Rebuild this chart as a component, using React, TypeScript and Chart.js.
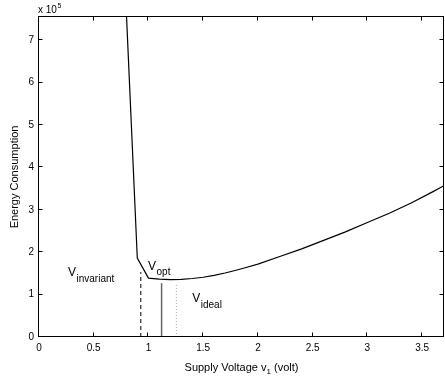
import React, { useEffect, useRef } from "react";
import { Chart, registerables } from "chart.js";

Chart.register(...registerables);

// Supply voltage (volt) and energy consumption
const voltage = [0.795, 0.898, 1.0, 1.1, 1.2, 1.3, 1.4, 1.5, 1.6, 1.7, 1.8, 1.9, 2.0, 2.2, 2.4, 2.6, 2.8, 3.0, 3.2, 3.4, 3.6, 3.7];
const energy = [783000, 186000, 139000, 136500, 135500, 136000, 138000, 141000, 145500, 151000, 157500, 164500, 172000, 190000, 208000, 228000, 248000, 270000, 292000, 316000, 343000, 357000];

// Marker lines: [voltage, top energy]
const vInvariant = [0.93, 153000];
const vOpt = [1.12, 127000];
const vIdeal = [1.255, 126000];

// Text labels: [main, subscript, x, y, subscript drop]
const labels: [string, string, number, number, number][] = [
  ["V", "invariant", 0.265, 143000, 6],
  ["V", "opt", 0.996, 157000, 5],
  ["V", "ideal", 1.4, 82000, 6],
];

const xTicks = [0, 0.5, 1, 1.5, 2, 2.5, 3, 3.5];
const yTicks = [0, 1, 2, 3, 4, 5, 6, 7];
const xMax = 3.7;
const yMax = 755000;

const FONT = "'Liberation Sans', Arial, Helvetica, sans-serif";

const axesPlugin = {
  id: "matlabAxes",
  afterDraw(chart: any) {
    const ctx = chart.ctx;
    const { left, right, top, bottom } = chart.chartArea;
    const xs = chart.scales.x;
    const ys = chart.scales.y;
    ctx.save();
    ctx.strokeStyle = "#000";
    ctx.lineWidth = 1;
    ctx.strokeRect(left - 0.5, top - 0.5, right - left, bottom - top);
    const tl = 4;
    ctx.beginPath();
    xTicks.forEach((v) => {
      const px = Math.round(xs.getPixelForValue(v)) - 0.5;
      ctx.moveTo(px, bottom - 0.5);
      ctx.lineTo(px, bottom - 0.5 - tl);
      ctx.moveTo(px, top - 0.5);
      ctx.lineTo(px, top - 0.5 + tl);
    });
    yTicks.forEach((v) => {
      const py = Math.round(ys.getPixelForValue(v * 1e5)) - 0.5;
      ctx.moveTo(left - 0.5, py);
      ctx.lineTo(left - 0.5 + tl, py);
      ctx.moveTo(right - 0.5, py);
      ctx.lineTo(right - 0.5 - tl, py);
    });
    ctx.stroke();

    ctx.fillStyle = "#000";
    // exponent label
    ctx.textBaseline = "alphabetic";
    ctx.textAlign = "left";
    ctx.font = `10px ${FONT}`;
    ctx.fillText("x 10", left - 1, 13);
    const w10 = ctx.measureText("x 10").width;
    ctx.font = `7px ${FONT}`;
    ctx.fillText("5", left - 1 + w10 + 0.5, 8);

    // x title with subscript
    ctx.font = `11px ${FONT}`;
    const p1 = "Supply Voltage v";
    const p3 = " (volt)";
    const w1 = ctx.measureText(p1).width;
    const w3 = ctx.measureText(p3).width;
    ctx.font = `8px ${FONT}`;
    const w2 = ctx.measureText("1").width;
    const total = w1 + w2 + w3;
    const sx = (left + right) / 2 - total / 2;
    const by = 371;
    ctx.font = `11px ${FONT}`;
    ctx.fillText(p1, sx, by);
    ctx.font = `8px ${FONT}`;
    ctx.fillText("1", sx + w1, by + 3);
    ctx.font = `11px ${FONT}`;
    ctx.fillText(p3, sx + w1 + w2, by);

    // y title
    ctx.save();
    ctx.translate(15, (top + bottom) / 2);
    ctx.rotate(-Math.PI / 2);
    ctx.textAlign = "center";
    ctx.textBaseline = "middle";
    ctx.font = `11px ${FONT}`;
    ctx.fillText("Energy Consumption", 0, 0);
    ctx.restore();

    // annotations
    labels.forEach(([main, sub, x, y, off]) => {
      const px = xs.getPixelForValue(x);
      const py = ys.getPixelForValue(y);
      ctx.textAlign = "left";
      ctx.textBaseline = "alphabetic";
      ctx.font = `12px ${FONT}`;
      ctx.fillText(main, px, py);
      const wm = ctx.measureText(main).width;
      ctx.font = `10px ${FONT}`;
      ctx.fillText(sub, px + wm + 0.5, py + off);
    });
    ctx.restore();
  },
};

export default function App() {
  const ref = useRef<HTMLCanvasElement>(null);
  useEffect(() => {
    if (!ref.current) return;
    const curve = voltage.map((v, i) => ({ x: v, y: energy[i] }));
    const vline = (p: number[]) => [
      { x: p[0], y: 0 },
      { x: p[0], y: p[1] },
    ];
    const chart = new Chart(ref.current, {
      type: "line",
      data: {
        datasets: [
          {
            data: curve,
            borderColor: "#000",
            borderWidth: 1.2,
            pointRadius: 0,
            tension: 0,
          },
          {
            data: vline(vInvariant),
            borderColor: "#000",
            borderWidth: 1,
            borderDash: [4, 3],
            pointRadius: 0,
          },
          {
            data: vline(vOpt),
            borderColor: "#666",
            borderWidth: 1.5,
            pointRadius: 0,
          },
          {
            data: vline(vIdeal),
            borderColor: "#aaa",
            borderWidth: 1,
            borderDash: [1, 2],
            pointRadius: 0,
          },
        ],
      },
      options: {
        animation: false,
        responsive: false,
        events: [],
        layout: { padding: { top: 17, right: 1, left: 0, bottom: 0 } },
        plugins: { legend: { display: false }, tooltip: { enabled: false } },
        scales: {
          x: {
            type: "linear",
            min: 0,
            max: xMax,
            grid: { display: false, drawTicks: false },
            border: { display: false },
            afterFit: (s: any) => {
              s.height = 44;
            },
            afterBuildTicks: (s: any) => {
              s.ticks = xTicks.map((v) => ({ value: v }));
            },
            ticks: {
              padding: 5,
              color: "#000",
              font: { size: 10, family: FONT },
              maxRotation: 0,
              autoSkip: false,
              callback: (v: any) => String(v),
            },
          },
          y: {
            type: "linear",
            min: 0,
            max: yMax,
            grid: { display: false, drawTicks: false },
            border: { display: false },
            afterFit: (s: any) => {
              s.width = 39;
            },
            afterBuildTicks: (s: any) => {
              s.ticks = yTicks.map((v) => ({ value: v * 1e5 }));
            },
            ticks: {
              padding: 5,
              color: "#000",
              font: { size: 10, family: FONT },
              autoSkip: false,
              callback: (v: any) => String(Math.round(Number(v) / 1e5)),
            },
          },
        },
      },
      plugins: [axesPlugin],
    });
    return () => chart.destroy();
  }, []);
  return (
    <div style={{ position: "fixed", left: 0, top: 0, width: 445, height: 381, background: "#fff" }}>
      <canvas ref={ref} width={445} height={381} style={{ display: "block", width: 445, height: 381 }} />
    </div>
  );
}
